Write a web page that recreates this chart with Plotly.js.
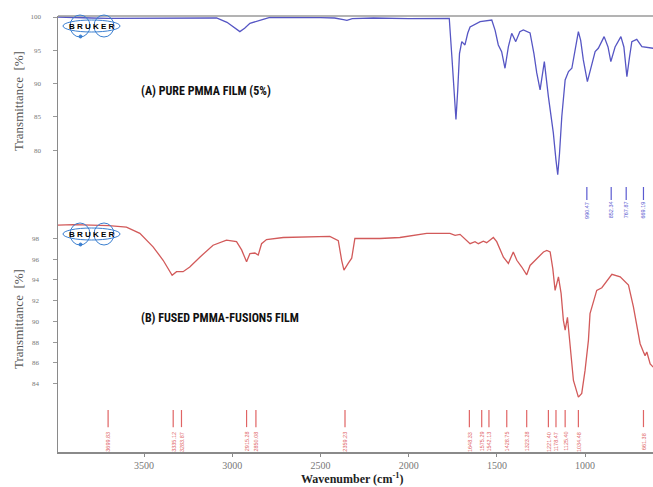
<!DOCTYPE html>
<html><head><meta charset="utf-8">
<script src="https://cdn.plot.ly/plotly-3.0.1.min.js"></script>
<style>html,body{margin:0;padding:0;background:#fff}#c{width:653px;height:487px}</style>
</head><body><div id="c"></div>
<script>
// (A) Pure PMMA film spectrum
const wnA = [3988,3900,3800,3700,3600,3500,3300,3150,3089,3030,2995,2957,2930,2900,2825,2787,2500,2420,2370,2350,2320,2200,2000,1850,1790,1770,1755,1743,1732,1722,1712,1699,1681,1665,1652,1595,1529,1510,1492,1473,1454,1435,1416,1393,1370,1350,1312,1290,1274,1255,1231,1208,1195,1180,1165,1155,1145,1132,1113,1094,1075,1055,1038,1025,1010,987,965,943,925,892,870,854,830,797,780,763,748,735,707,678,614];
const tA  = [100,99.9,99.85,99.8,99.8,99.85,99.9,99.9,99.85,99.2,98.55,97.8,98.3,99.05,99.65,99.95,99.9,99.85,99.6,99.5,99.75,99.85,99.75,99.85,99.85,99.8,94,88,84.6,89,94.5,96.3,95.8,97.6,98.5,99.3,99.55,98,95.8,94.8,92.3,95.5,97.55,96.3,97.8,98.05,97.6,94.5,91.6,89.05,93.3,88.05,85.3,82.6,78.5,76.3,79.5,85.05,90.55,91.8,92.3,95.5,97.8,96.5,93.55,90.3,92.5,94.8,95.3,97.05,95.5,93.3,95.5,97.05,95.5,91.05,94,96.3,96.65,95.55,95.3];
// (B) Fused PMMA-Fusion5 film spectrum
const wnB = [3988,3900,3800,3700,3600,3524,3449,3392,3341,3316,3279,3241,3184,3109,3033,2976,2947,2919,2900,2872,2853,2834,2806,2711,2447,2399,2380,2367,2343,2323,2305,2163,2050,1898,1766,1737,1709,1652,1624,1605,1577,1558,1520,1501,1463,1435,1407,1387,1359,1331,1312,1284,1236,1217,1198,1183,1170,1151,1136,1123,1113,1100,1090,1075,1066,1038,1019,1000,981,972,934,905,848,801,754,726,707,688,669,660,650,631,614];
const tB  = [99.3,99.35,99.3,99.25,99.1,98.5,97.2,95.9,94.45,94.8,94.8,95.25,96.2,97.35,97.85,97.7,96.9,95.75,96.55,96.6,96.4,97.5,97.9,98.1,98.2,97.8,95.9,94.95,95.6,96.1,98.0,98.0,98.1,98.5,98.5,98.3,98.4,97.5,97.7,97.5,97.75,97.6,98.1,97.7,96.2,95.6,96.7,95.9,95.25,94.5,95.4,95.9,96.7,96.85,96.7,95.1,93.0,94.3,92.7,90.1,89.15,90.4,88.6,86.2,84.3,82.7,83.05,85.3,88.2,90.75,93.0,93.25,94.55,94.3,93.5,91.4,89.5,87.85,87.05,86.7,87.05,85.9,85.6];
// peak picks
const peaksA = [990,852,767,669];
const peakLabelsA = ["990.47","852.34","767.87","669.19"];
const peaksB = [3704,3335,3288,2919,2866,2361,1656,1586,1545,1444,1331,1208,1165,1113,1038,669];
const peakLabelsB = ["3699.83","3335.12","3283.87","2915.28","2850.08","2359.23","1648.33","1575.29","1542.13","1428.75","1323.28","1221.40","1178.47","1125.40","1034.48","661.38"];
// ticks
const xTicks = [3500,3000,2500,2000,1500,1000];
const yTicksA = [100,95,90,85,80];
const yTicksB = [98,96,94,92,90,88,86,84];

// layout helpers (pixel -> paper)
const L=58, R=653, T=16, B=452;
const px = v => (v-L)/(R-L);
const py = v => (B-v)/(B-T);

function markerTrace(peaks, lo, hi, yaxis, color){
  const x=[], y=[];
  peaks.forEach(p=>{x.push(p,p,null); y.push(lo,hi,null);});
  return {x, y, yaxis, type:'scatter', mode:'lines', line:{color, width:1.2}, hoverinfo:'skip', showlegend:false};
}

const blue='#5656c4', red='#d25a5a';
const traces = [
  {x: wnA, y: tA, yaxis:'y', type:'scatter', mode:'lines', line:{color:blue, width:1.3}, showlegend:false},
  {x: wnB, y: tB, yaxis:'y2', type:'scatter', mode:'lines', line:{color:red, width:1.3}, showlegend:false},
  markerTrace(peaksA, 72.5, 74.45, 'y', '#5a5ad0'),
  markerTrace(peaksB, 79.8, 81.45, 'y2', '#e06464')
];

const annotations = [];
peaksA.forEach((p,i)=>annotations.push({x:p, y:71.0, xref:'x', yref:'y', text:peakLabelsA[i], showarrow:false, textangle:-90, font:{size:5.5, color:'#5a5ad0', family:'Liberation Sans, Arial'}}));
peaksB.forEach((p,i)=>annotations.push({x:p, y:78.4, xref:'x', yref:'y2', text:peakLabelsB[i], showarrow:false, textangle:-90, font:{size:5.5, color:'#e06464', family:'Liberation Sans, Arial'}}));

const condensed = 'Liberation Sans Narrow, Arial Narrow, Roboto Condensed, Roboto, sans-serif';
annotations.push(
  {xref:'paper', yref:'paper', x:px(139), y:py(90.7), xanchor:'left', yanchor:'middle', showarrow:false, text:'<b>(A) PURE PMMA FILM (5%)</b>', font:{size:12, color:'#111', family:condensed}},
  {xref:'paper', yref:'paper', x:px(139), y:py(318), xanchor:'left', yanchor:'middle', showarrow:false, text:'<b>(B) FUSED PMMA-FUSION5 FILM</b>', font:{size:12, color:'#111', family:condensed}},
  {xref:'paper', yref:'paper', x:px(18), y:py(101), xanchor:'center', yanchor:'middle', showarrow:false, textangle:-90, text:'Transmittance  [%]', font:{size:13, color:'#555', family:'Liberation Serif, Times New Roman, serif'}},
  {xref:'paper', yref:'paper', x:px(18), y:py(319), xanchor:'center', yanchor:'middle', showarrow:false, textangle:-90, text:'Transmittance  [%]', font:{size:13, color:'#555', family:'Liberation Serif, Times New Roman, serif'}},
  {xref:'paper', yref:'paper', x:px(352), y:py(478), xanchor:'center', yanchor:'middle', showarrow:false, text:'<b>Wavenumber (cm<sup>-1</sup>)</b>', font:{size:12, color:'#222', family:'Liberation Serif, Times New Roman, serif'}},
  {xref:'paper', yref:'paper', x:px(92), y:py(26.5), xanchor:'center', yanchor:'middle', showarrow:false, text:'<b>B R U K E R</b>', font:{size:8, color:'#000', family:'Liberation Sans, Arial'}},
  {xref:'paper', yref:'paper', x:px(92), y:py(234.5), xanchor:'center', yanchor:'middle', showarrow:false, text:'<b>B R U K E R</b>', font:{size:8, color:'#000', family:'Liberation Sans, Arial'}}
);

function logoShapes(cy){
  const c='#3b7fd0';
  return [
    {type:'circle', xref:'paper', yref:'paper', x0:px(63), x1:px(120), y0:py(cy-6), y1:py(cy+6), line:{color:c, width:1}},
    {type:'circle', xref:'paper', yref:'paper', x0:px(70), x1:px(90), y0:py(cy-11), y1:py(cy+11), line:{color:c, width:1}},
    {type:'circle', xref:'paper', yref:'paper', x0:px(94), x1:px(114), y0:py(cy-11), y1:py(cy+11), line:{color:c, width:1}},
    {type:'circle', xref:'paper', yref:'paper', x0:px(79), x1:px(82), y0:py(cy+9), y1:py(cy+12), fillcolor:c, line:{color:c, width:1}}
  ];
}
const shapes = [
  {type:'line', xref:'paper', yref:'paper', x0:0, x1:1, y0:1, y1:1, line:{color:'#9a9a9a', width:1.5}},
  ...logoShapes(26),
  ...logoShapes(234)
];

const tickFont = {size:7, color:'#777', family:'Liberation Serif, serif'};
const layout = {
  width:653, height:487,
  margin:{l:L, r:653-R, t:T, b:487-B, pad:0},
  paper_bgcolor:'#fff', plot_bgcolor:'#fff',
  showlegend:false,
  xaxis:{range:[3988,615], anchor:'y2', tickvals:xTicks, ticktext:xTicks.map(String), ticks:'outside', ticklen:3, tickcolor:'#888', showline:true, linecolor:'#8a8a8a', linewidth:1.5, showgrid:false, zeroline:false, tickfont:{size:10, color:'#777', family:'Liberation Serif, serif'}},
  yaxis:{domain:[0.55,1], range:[70.68,100.15], tickvals:yTicksA, ticktext:yTicksA.map(String), ticks:'outside', ticklen:4, tickcolor:'#999', showline:true, linecolor:'#8a8a8a', linewidth:1.5, showgrid:false, zeroline:false, tickfont:tickFont, ticklabelstandoff:10},
  yaxis2:{domain:[0,0.55], range:[77.4,100.54], tickvals:yTicksB, ticktext:yTicksB.map(String), ticks:'outside', ticklen:4, tickcolor:'#999', showline:true, linecolor:'#8a8a8a', linewidth:1.5, showgrid:false, zeroline:false, tickfont:tickFont, ticklabelstandoff:12},
  annotations, shapes
};
Plotly.newPlot('c', traces, layout, {displayModeBar:false, staticPlot:true});
</script></body></html>
